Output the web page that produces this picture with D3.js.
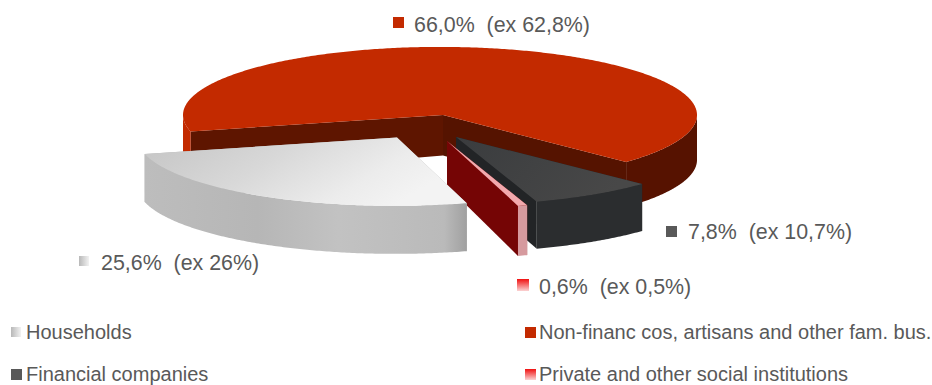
<!DOCTYPE html>
<html>
<head>
<meta charset="utf-8">
<script src="https://cdn.jsdelivr.net/npm/d3@7"></script>
<style>
  html, body { margin: 0; padding: 0; background: #fff; overflow: hidden; }
  svg { display: block; }
  text { font-family: "Liberation Sans", Arial, sans-serif; fill: #595959; white-space: pre; }
</style>
</head>
<body>
<svg id="chart" width="932" height="385"></svg>
<script>
// Shares of the sector breakdown, current and previous period (%)
const categories = ["Non-financ cos, artisans and other fam. bus.", "Financial companies", "Private and other social institutions", "Households"];
const shares = [66.0, 7.8, 0.6, 25.6];
const previous = [62.8, 10.7, 0.5, 26];

// Pie projection: a tilted disc with an extruded rim
const cx = 440, cy = 115, tilt = 0.265;
const firstAngle = 256 * Math.PI / 180;

// How far each wedge is pulled away from the disc centre, and its fills.
// rimLeft / rimRight colour the visible rim on either side of the front of the disc.
const wedgeStyle = [
  { dx: 0,   dy: 0,    apex: 3, r: 257, d: 45, top: "#c32a00", rimLeft: "#c32a00", rimRight: "#561200", faceA: "#5e1500", faceB: "#551300" },
  { dx: 16,  dy: 22,   apex: 0, r: 257, d: 47, top: "url(#topDark)", rimLeft: "#2b2d2f", rimRight: "#2b2d2f", faceA: "#222426", faceB: "#222426" },
  { dx: 7,   dy: 26,   apex: 0, r: 255, d: 50, top: "#f2a9ad", rimLeft: "#d69a9e", rimRight: "#d69a9e", faceA: "#750505", faceB: "#750505" },
  { dx: -45, dy: 22.5, apex: 2, r: 258, d: 48, top: "url(#topGrey)", rimLeft: "url(#wallGrey)", rimRight: "url(#wallGrey)", faceA: "#b5b5b5", faceB: "#b5b5b5" }
];

const svg = d3.select("#chart");
const defs = svg.append("defs");

function gradient(id, x2, y2, stops) {
  const g = defs.append("linearGradient").attr("id", id)
    .attr("x1", 0).attr("y1", 0).attr("x2", x2).attr("y2", y2);
  stops.forEach(([o, c]) => g.append("stop").attr("offset", o).attr("stop-color", c));
}
gradient("topGrey", 1, 0.35, [[0, "#c4c4c4"], [0.45, "#d8d8d8"], [0.8, "#ececec"], [1, "#f3f3f3"]]);
gradient("wallGrey", 1, 0, [[0, "#bdbdbd"], [0.35, "#b6b6b6"], [0.6, "#c2c2c2"], [0.93, "#bababa"], [1, "#a0a0a0"]]);
gradient("topDark", 1, 0.3, [[0, "#3a3c3e"], [1, "#484848"]]);
gradient("chipGrey", 1, 0, [[0, "#b8b8b8"], [1, "#f2f2f2"]]);
gradient("chipPink", 0, 1, [[0, "#f01010"], [1, "#fbd3d3"]]);

const pie = d3.pie().sort(null).value(d => d)
  .startAngle(firstAngle).endAngle(firstAngle + 2 * Math.PI);
const wedges = pie(shares);

const sweep = (a0, a1) => {
  const n = Math.max(2, Math.ceil((a1 - a0) / 0.01));
  return d3.range(n + 1).map(i => a0 + (a1 - a0) * i / n);
};

// Painter's order: the large back wedge first, then the pulled-out ones
wedges.forEach((w, i) => {
  const s = wedgeStyle[i];
  const ox = cx + s.dx, oy = cy + s.dy, ax = ox + s.apex;
  const px = a => ox + s.r * Math.sin(a);
  const py = a => oy - s.r * tilt * Math.cos(a);
  const g = svg.append("g").attr("class", "wedge");

  // Cut faces
  const poly = d3.line();
  const face = (a, fill) => g.append("path")
    .attr("d", poly([[ax, oy], [px(a), py(a)], [px(a), py(a) + s.d], [ax, oy + s.d * 0.9]]) + "Z")
    .attr("fill", fill);
  face(w.startAngle, s.faceA);
  face(w.endAngle, s.faceB);

  // Rim: only the part of the arc that faces the viewer, split where it wraps past the back
  const rim = sweep(w.startAngle, w.endAngle).filter(a => Math.cos(a) <= 0);
  const runs = [[]];
  rim.forEach((a, k) => {
    if (k && a - rim[k - 1] > 0.05) runs.push([]);
    runs[runs.length - 1].push(a);
  });
  const band = d3.area().x(px).y0(py).y1(a => py(a) + s.d);
  runs.filter(run => run.length).forEach(run => {
    const wholeFront = run[0] < Math.PI && run[run.length - 1] > Math.PI;
    g.append("path")
      .attr("d", band(run))
      .attr("fill", !wholeFront && px(run[0]) > ox ? s.rimRight : s.rimLeft);
  });

  // Top surface
  const outline = d3.line().x(px).y(py);
  g.append("path")
    .attr("d", outline(sweep(w.startAngle, w.endAngle)) + `L${ax},${oy}Z`)
    .attr("fill", s.top);
});

// Value labels beside the pie
const pct = d3.formatLocale({ decimal: ",", thousands: ".", grouping: [3], currency: ["", ""] });
const fmtNow = pct.format(".1f"), fmtPrev = pct.format(".1~f");
const labelOf = i => `${fmtNow(shares[i])}%  (ex ${fmtPrev(previous[i])}%)`;

const chip = (x, y, size, fill) => svg.append("rect")
  .attr("x", x).attr("y", y).attr("width", size).attr("height", size).attr("fill", fill);
const caption = (x, y, txt, size) => svg.append("text")
  .attr("x", x).attr("y", y).attr("font-size", size).text(txt);

chip(393, 17, 11, "#c32a00");  caption(414, 32, labelOf(0), 21.4);
chip(666, 226, 11, "#595959"); caption(688, 239, labelOf(1), 21.4);
chip(517, 279, 12, "url(#chipPink)"); caption(539, 294, labelOf(2), 21.4);
chip(79, 256, 10, "url(#chipGrey)");  caption(101, 270, labelOf(3), 21.4);

// Legend
chip(11, 327, 10, "url(#chipGrey)"); caption(26, 339, categories[3], 20);
chip(11, 369, 11, "#595959");        caption(26, 381, categories[1], 20);
chip(525, 327, 11, "#c32a00");       caption(539, 339, categories[0], 20);
chip(525, 369, 11, "url(#chipPink)"); caption(539, 381, categories[2], 20);
</script>
</body>
</html>
